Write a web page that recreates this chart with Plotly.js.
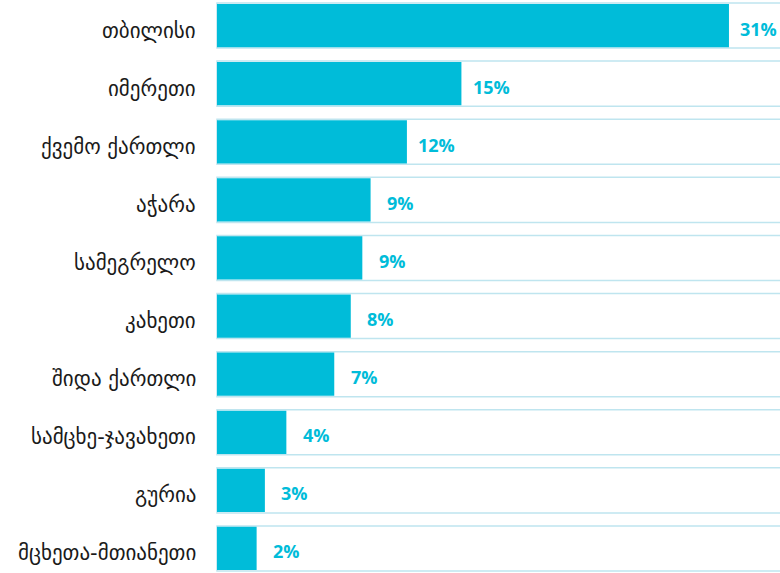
<!DOCTYPE html>
<html>
<head>
<meta charset="utf-8">
<script src="https://cdn.plot.ly/plotly-3.0.1.min.js"></script>
<style>html,body{margin:0;padding:0;background:#fff;}#chart{width:780px;height:573px;}</style>
</head>
<body>
<div id="chart"></div>
<script>
var regions = ["თბილისი","იმერეთი","ქვემო ქართლი","აჭარა","სამეგრელო","კახეთი","შიდა ქართლი","სამცხე-ჯავახეთი","გურია","მცხეთა-მთიანეთი"];
var shares = [31, 14.8, 11.5, 9.3, 8.8, 8.1, 7.1, 4.2, 2.9, 2.4];
var shareLabels = ["31%","15%","12%","9%","9%","8%","7%","4%","3%","2%"];

var xMax = 34.09;
var xMin = -0.121;
var bgValues = regions.map(function(){ return 40; });

var cyan = "#00bcd9";
var rowLine = "#bfe5ef";

var traces = [
  {
    type: "bar", orientation: "h",
    y: regions, x: bgValues,
    marker: {color: "rgba(255,255,255,0)", line: {color: rowLine, width: 1.5}},
    width: 0.776,
    hoverinfo: "skip", showlegend: false
  },
  {
    type: "bar", orientation: "h",
    y: regions, x: shares,
    marker: {color: cyan, line: {width: 0}},
    width: 0.745,
    hoverinfo: "skip", showlegend: false
  }
];

var annotations = regions.map(function(r, i){
  return {
    x: shares[i], y: r, xref: "x", yref: "y",
    text: shareLabels[i], showarrow: false,
    xanchor: "center", yanchor: "middle", xshift: 30, yshift: -3,
    font: {family: "Open Sans, Noto Sans, sans-serif", size: 18, color: cyan, weight: 700}
  };
}).concat(regions.map(function(r){
  return {
    x: 0, y: r, xref: "paper", yref: "y",
    text: r, showarrow: false,
    xanchor: "right", yanchor: "middle", xshift: -17, yshift: -5,
    font: {family: "DejaVu Sans, sans-serif", size: 21, color: "#1a1a1a"}
  };
}));

var layout = {
  width: 780, height: 573,
  margin: {l: 215, r: 0, t: 0, b: 0, pad: 0},
  paper_bgcolor: "#fff", plot_bgcolor: "#fff",
  barmode: "overlay",
  showlegend: false,
  xaxis: {range: [xMin, xMax], visible: false, fixedrange: true},
  yaxis: {
    type: "category",
    categoryorder: "array", categoryarray: regions,
    range: [9.422, -0.44], autorange: false,
    showgrid: false, zeroline: false, showline: false,
    showticklabels: false, ticks: ""
  },
  annotations: annotations
};

Plotly.newPlot("chart", traces, layout, {displayModeBar: false, staticPlot: true});
</script>
</body>
</html>
